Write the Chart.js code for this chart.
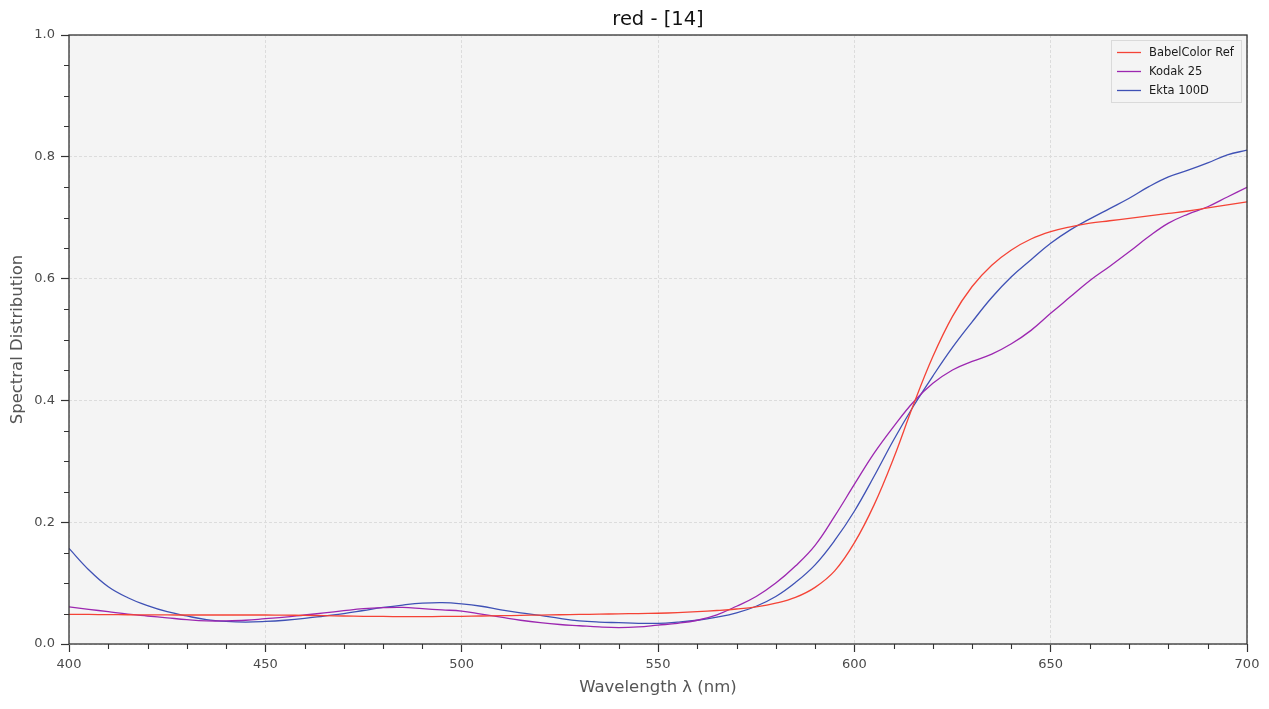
<!DOCTYPE html>
<html><head><meta charset="utf-8">
<script src="https://cdn.jsdelivr.net/npm/chart.js@4.4.1/dist/chart.umd.min.js"></script>
<style>html,body{margin:0;padding:0;background:#fff;} canvas{display:block;}</style>
</head><body>
<canvas id="c" width="1269" height="709"></canvas>
<script>
const chartTitle = "red - [14]";
const xLabel = "Wavelength \u03BB (nm)";
const yLabel = "Spectral Distribution";
const seriesNames = ["BabelColor Ref", "Kodak 25", "Ekta 100D"];
const seriesColors = ["#F44336", "#9C27B0", "#3F51B5"];

const wavelengths = [400,405,410,415,420,425,430,435,440,445,450,455,460,465,470,475,480,485,490,495,
  500,505,510,515,520,525,530,535,540,545,550,555,560,565,570,575,580,585,590,595,
  600,605,610,615,620,625,630,635,640,645,650,655,660,665,670,675,680,685,690,695,700];

const babelColorRef = [0.0487,0.0485,0.0482,0.0480,0.0478,0.0477,0.0476,0.0476,0.0476,0.0476,
  0.0476,0.0474,0.0470,0.0465,0.0460,0.0455,0.0452,0.0450,0.0450,0.0452,
  0.0455,0.0460,0.0465,0.0470,0.0475,0.0480,0.0485,0.0490,0.0495,0.0500,
  0.0505,0.0515,0.0530,0.0550,0.0575,0.0610,0.0670,0.0765,0.0930,0.1200,
  0.1660,0.2280,0.3050,0.3920,0.4720,0.5380,0.5870,0.6220,0.6470,0.6650,
  0.6770,0.6850,0.6910,0.6950,0.6990,0.7030,0.7070,0.7110,0.7160,0.7210,0.7260];

const kodak25 = [0.061,0.057,0.053,0.049,0.046,0.043,0.040,0.038,0.038,0.039,
  0.0415,0.044,0.0476,0.051,0.0547,0.058,0.0596,0.060,0.058,0.056,
  0.054,0.049,0.044,0.039,0.035,0.032,0.030,0.028,0.027,0.028,
  0.031,0.034,0.039,0.048,0.062,0.078,0.100,0.128,0.162,0.210,
  0.262,0.313,0.357,0.397,0.428,0.450,0.464,0.476,0.493,0.515,
  0.543,0.570,0.597,0.620,0.644,0.669,0.691,0.706,0.718,0.734,0.750];

const ekta100D = [0.157,0.122,0.094,0.076,0.063,0.053,0.046,0.040,0.037,0.036,
  0.037,0.039,0.042,0.046,0.050,0.055,0.060,0.064,0.067,0.068,
  0.066,0.062,0.056,0.051,0.047,0.042,0.038,0.036,0.035,0.034,
  0.034,0.036,0.039,0.044,0.051,0.062,0.078,0.101,0.130,0.170,
  0.218,0.275,0.335,0.390,0.440,0.487,0.529,0.569,0.603,0.631,
  0.658,0.680,0.698,0.715,0.732,0.751,0.767,0.778,0.790,0.803,0.811];

const xTickStep = 50, xMinorStep = 10;
const yTickStep = 0.2, yMinorStep = 0.05;

const FONT = "'DejaVu Sans', sans-serif";

function pts(vals){ return wavelengths.map((w,i)=>({x:w, y:vals[i]})); }

const decor = {
  id: 'decor',
  beforeDraw(chart){
    const {ctx, chartArea:a} = chart;
    ctx.save();
    ctx.fillStyle = '#f4f4f4';
    ctx.fillRect(a.left, a.top, a.right-a.left, a.bottom-a.top);
    ctx.restore();
  },
  afterDraw(chart){
    const {ctx, chartArea:a, scales} = chart;
    const xs = scales.x, ys = scales.y;
    ctx.save();
    // minor ticks
    ctx.strokeStyle = '#333'; ctx.lineWidth = 1.1;
    ctx.beginPath();
    for (let v = xs.min; v <= xs.max + 1e-9; v += xMinorStep){
      if (Math.abs(v/xTickStep - Math.round(v/xTickStep)) < 1e-6) continue;
      const p = Math.round(xs.getPixelForValue(v)) + 0.5;
      ctx.moveTo(p, a.bottom); ctx.lineTo(p, a.bottom + 5);
    }
    for (let v = ys.min; v <= ys.max + 1e-9; v += yMinorStep){
      if (Math.abs(v/yTickStep - Math.round(v/yTickStep)) < 1e-6) continue;
      const p = Math.round(ys.getPixelForValue(v)) + 0.5;
      ctx.moveTo(a.left - 5, p); ctx.lineTo(a.left, p);
    }
    ctx.stroke();
    // frame
    ctx.strokeStyle = '#333'; ctx.lineWidth = 1.3;
    ctx.strokeRect(a.left, a.top, a.right - a.left, a.bottom - a.top);
    // title
    ctx.fillStyle = '#111';
    ctx.font = "19.5px " + FONT;
    ctx.textAlign = 'center'; ctx.textBaseline = 'middle';
    ctx.fillText(chartTitle, (a.left + a.right)/2, 20);
    // legend
    const bx = 1111.5, by = 40.5, bw = 130, bh = 62;
    ctx.fillStyle = 'rgba(244,244,244,0.9)';
    ctx.fillRect(bx, by, bw, bh);
    ctx.strokeStyle = '#dadada'; ctx.lineWidth = 1;
    ctx.strokeRect(bx, by, bw, bh);
    ctx.font = "11.5px " + FONT;
    ctx.textAlign = 'left'; ctx.textBaseline = 'middle';
    chart.data.datasets.forEach((ds, i) => {
      const y = 52.5 + i*19;
      ctx.strokeStyle = ds.borderColor; ctx.lineWidth = 1.3;
      ctx.beginPath(); ctx.moveTo(1117, y); ctx.lineTo(1141, y); ctx.stroke();
      ctx.fillStyle = '#1a1a1a';
      ctx.fillText(ds.label, 1149, y + 0.5);
    });
    ctx.restore();
  }
};

const datasets = [babelColorRef, kodak25, ekta100D].map((vals, i) => ({
  label: seriesNames[i],
  data: pts(vals),
  borderColor: seriesColors[i],
  backgroundColor: seriesColors[i],
  borderWidth: 1.3,
  pointRadius: 0,
  fill: false,
  tension: 0.4
}));

new Chart(document.getElementById('c'), {
  type: 'line',
  data: { datasets },
  options: {
    responsive: false,
    animation: false,
    devicePixelRatio: 1,
    layout: { padding: { left: 0, right: 22, top: 35, bottom: 0 } },
    plugins: { legend: { display: false }, title: { display: false }, tooltip: { enabled: false } },
    scales: {
      x: {
        type: 'linear', min: 400, max: 700,
        afterFit(s){ s.height = 65; },
        ticks: { stepSize: xTickStep, color: '#4a4a4a', font: { family: FONT, size: 13 }, padding: 5, maxRotation: 0, autoSkip: false },
        grid: { color: '#dcdcdc', lineWidth: 1, tickLength: 8, tickColor: '#333', tickWidth: 1.2, drawTicks: true },
        border: { display: false, dash: [3, 2] },
        title: { display: true, text: xLabel, color: '#555', font: { family: FONT, size: 16.5 }, padding: { top: 0, bottom: 11 } }
      },
      y: {
        type: 'linear', min: 0, max: 1,
        afterFit(s){ s.width = 69; },
        ticks: { stepSize: yTickStep, color: '#4a4a4a', font: { family: FONT, size: 13 }, padding: 6,
          callback: v => Number(v).toFixed(1) },
        grid: { color: '#dcdcdc', lineWidth: 1, tickLength: 8, tickColor: '#333', tickWidth: 1.2, drawTicks: true },
        border: { display: false, dash: [3, 2] },
        title: { display: true, text: yLabel, color: '#555', font: { family: FONT, size: 16.5 }, padding: { top: 8, bottom: 0 } }
      }
    }
  },
  plugins: [decor]
});
</script>
</body></html>
